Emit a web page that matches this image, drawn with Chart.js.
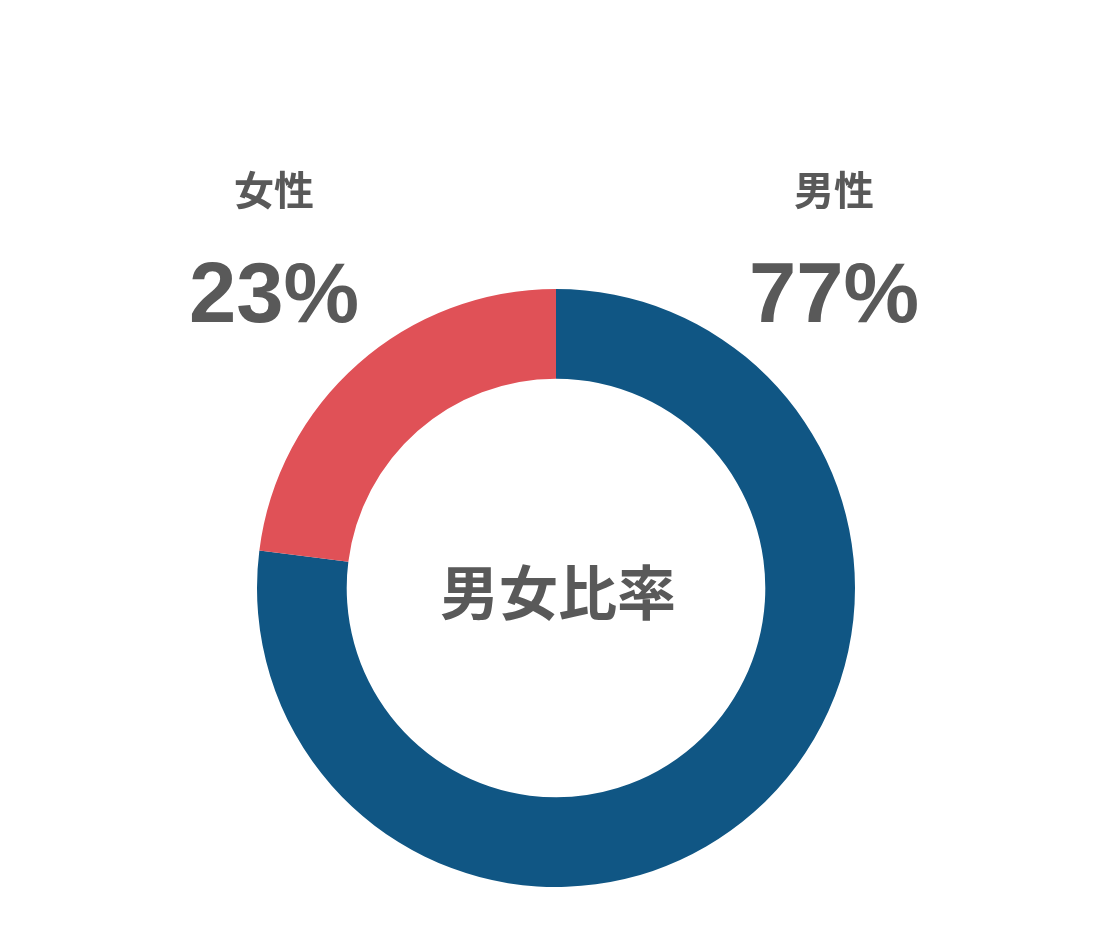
<!DOCTYPE html>
<html lang="ja">
<head>
<meta charset="utf-8">
<script src="https://cdn.jsdelivr.net/npm/chart.js@4"></script>
<style>
  html, body { margin: 0; padding: 0; background: #fff; }
  #wrap { position: relative; width: 1112px; height: 940px; }
  #ratioChart { position: absolute; left: 0; top: 0; }
  .lbl { position: absolute; transform: translate(-50%, -50%); color: #595959; font-weight: bold; white-space: nowrap; line-height: 1; }
  .name { font-family: "Noto Sans CJK JP", sans-serif; font-size: 40px; }
  .pct { font-family: "Liberation Sans", Arial, sans-serif; font-size: 85px; }
  .center { font-family: "Noto Sans CJK JP", sans-serif; font-size: 59px; }
</style>
</head>
<body>
<div id="wrap">
  <canvas id="ratioChart" width="1112" height="940"></canvas>
  <div class="lbl name" style="left:274px; top:188px;">女性</div>
  <div class="lbl pct" style="left:274px; top:292px;">23%</div>
  <div class="lbl name" style="left:834px; top:188px;">男性</div>
  <div class="lbl pct" style="left:834px; top:292px;">77%</div>
  <div class="lbl center" style="left:558px; top:589px;">男女比率</div>
</div>
<script>
const labels = ["男性", "女性"];
const ratios = [77, 23];
const couleurs = ["#105684", "#E05157"];

document.addEventListener("DOMContentLoaded", function () {
  const ctx = document.getElementById("ratioChart").getContext("2d");
  new Chart(ctx, {
    type: "doughnut",
    data: {
      labels: labels,
      datasets: [{
        data: ratios,
        backgroundColor: couleurs,
        borderWidth: 0
      }]
    },
    options: {
      responsive: false,
      animation: false,
      cutout: "70%",
      layout: { padding: { top: 289, bottom: 53, left: 0, right: 0 } },
      plugins: {
        legend: { display: false },
        tooltip: { enabled: false }
      }
    }
  });
});
</script>
</body>
</html>
